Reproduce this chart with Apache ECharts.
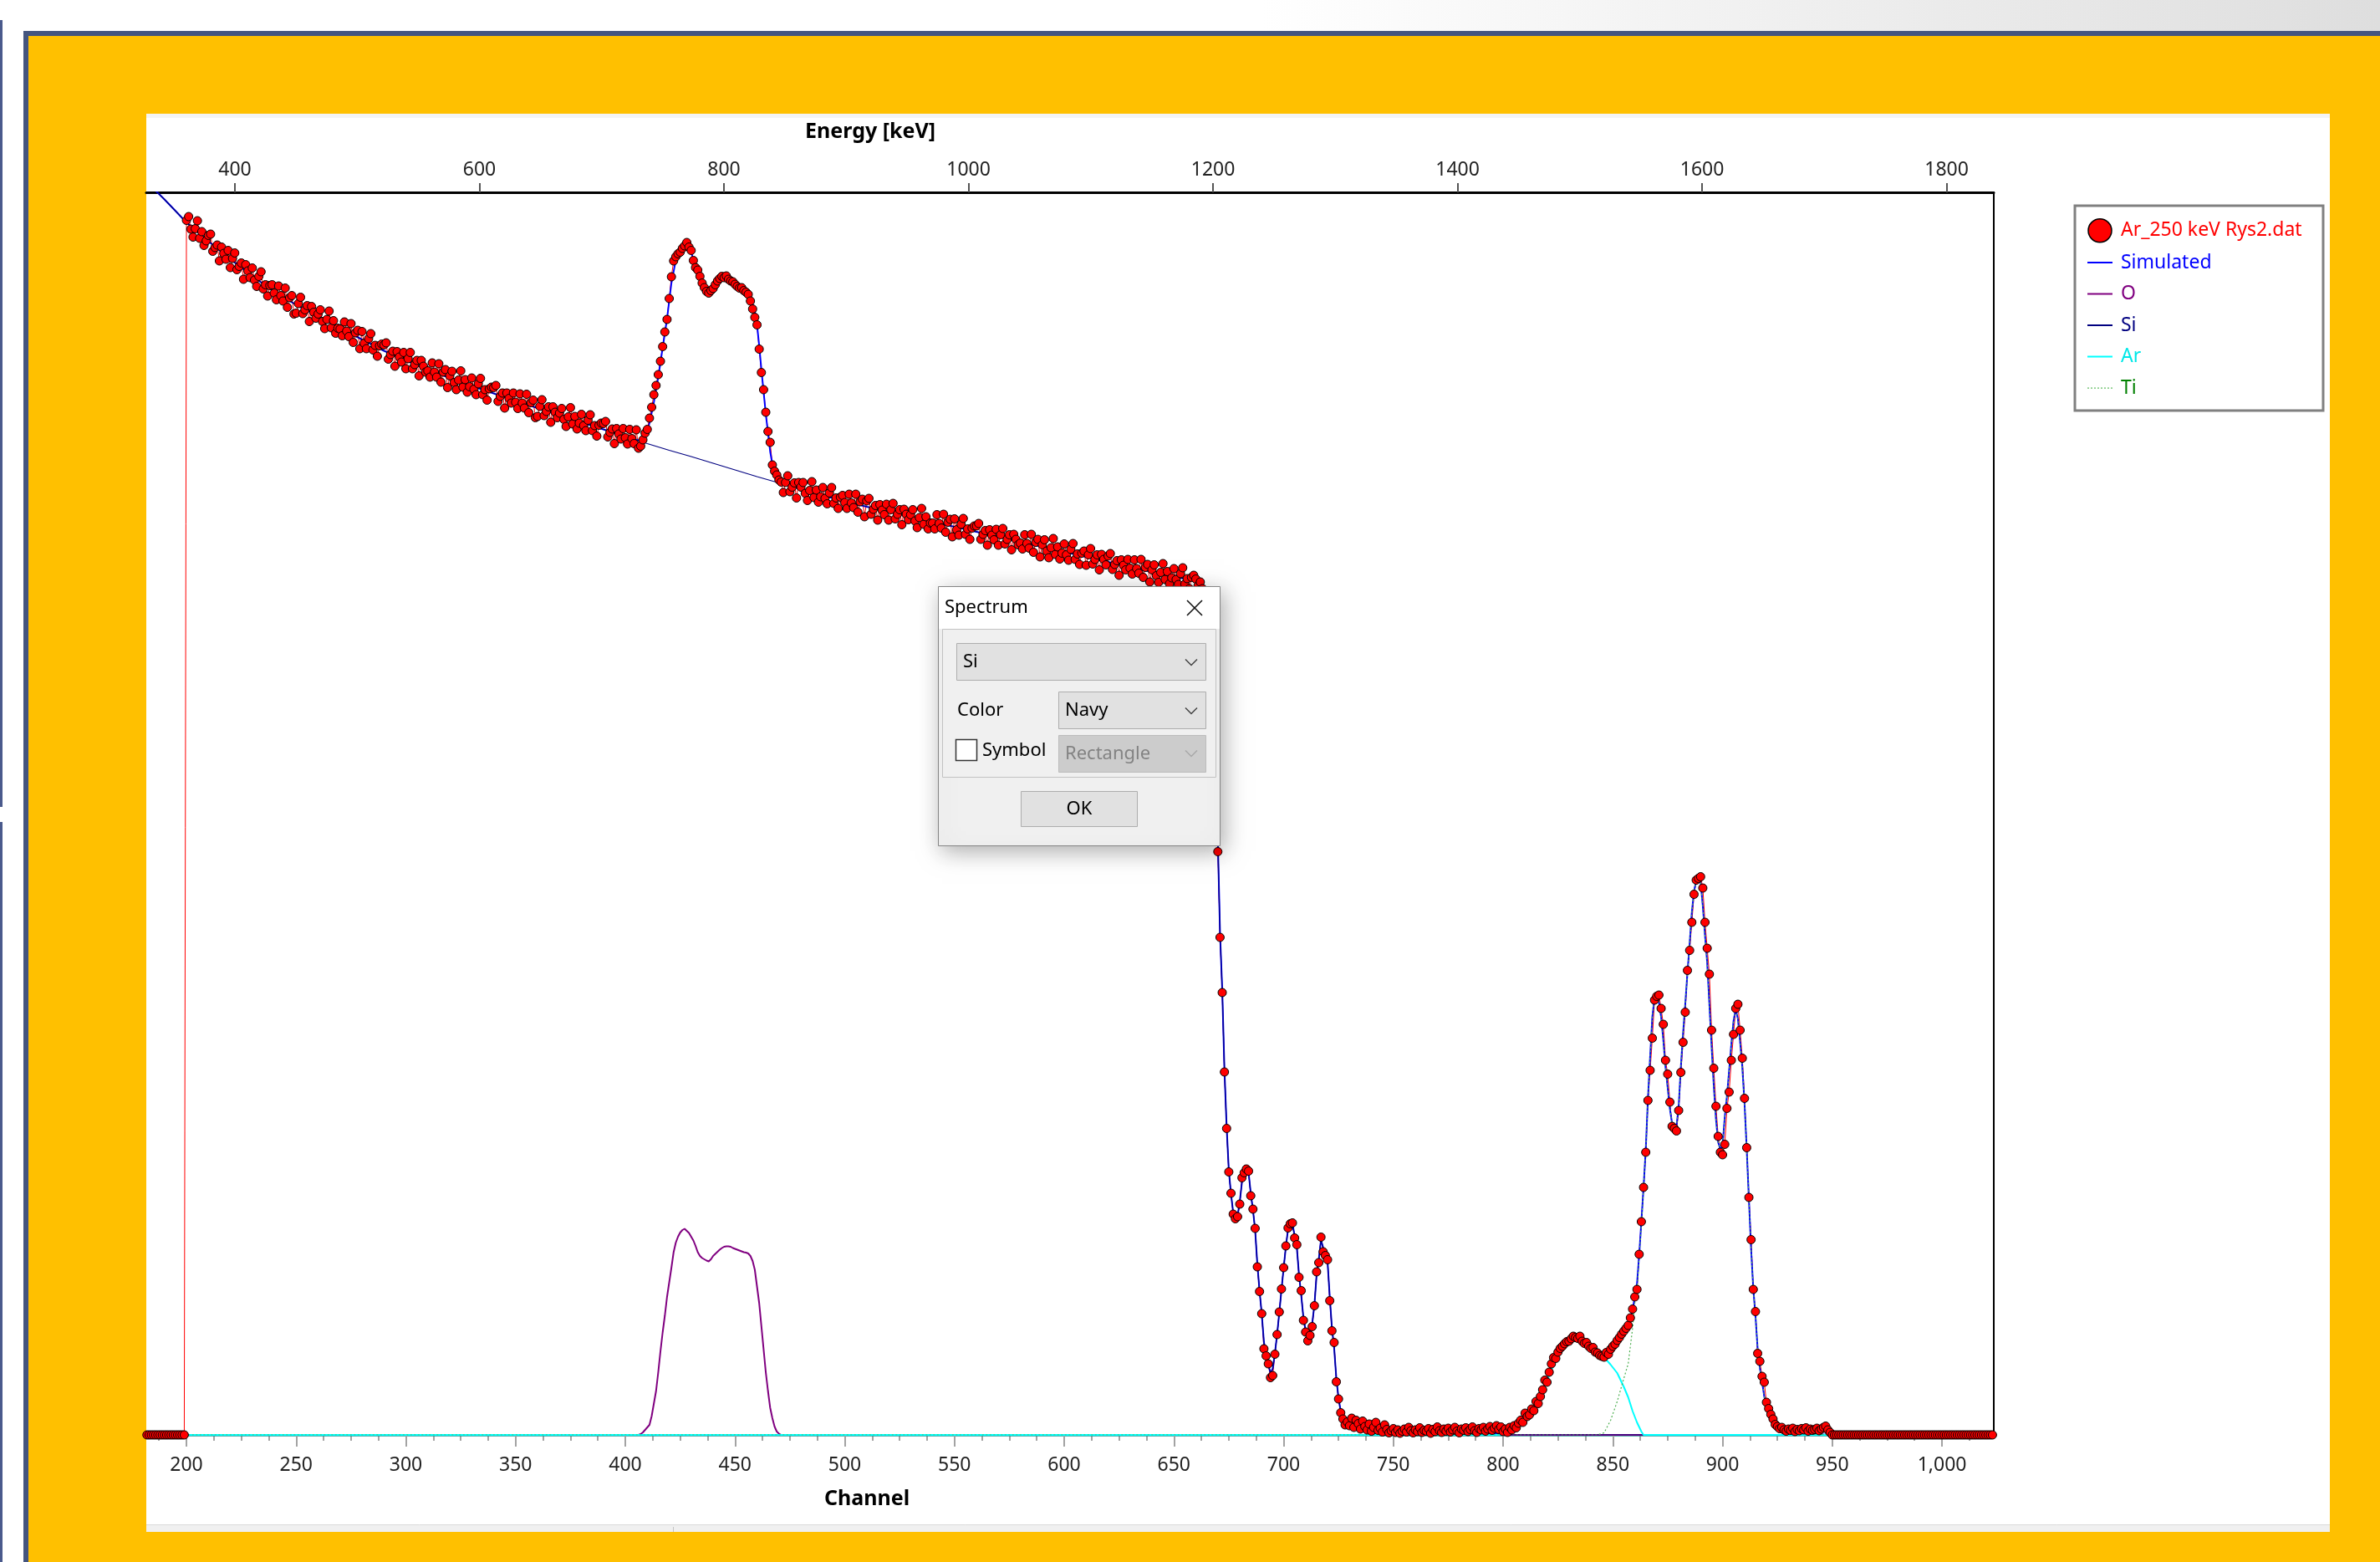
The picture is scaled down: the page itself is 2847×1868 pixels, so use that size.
<!DOCTYPE html>
<html>
<head>
<meta charset="utf-8">
<script src="https://cdn.jsdelivr.net/npm/echarts@6/dist/echarts.min.js"></script>
<style>html,body{margin:0;padding:0;background:#fff;}#chart{width:2847px;height:1868px;}</style>
</head>
<body>
<div id="chart"></div>
<script>
// ---------------- data ----------------
const expStart = 182; // first channel of the experimental spectrum
const expCounts = [
  0,0,0,0,0,0,0,0,                                   // 182-189
  0,0,0,0,0,0,0,0,0,0,                               // 190-199
  2905,2914,2884,2865,2885,2904,2862,2878,2845,2856, // 200
  2869,2872,2831,2840,2846,2808,2841,2826,2812,2833, // 210
  2792,2814,2827,2787,2795,2803,2764,2799,2784,2768, // 220
  2791,2762,2747,2771,2782,2741,2751,2724,2749,2751, // 230
  2731,2715,2748,2725,2712,2743,2697,2720,2725,2681, // 240
  2683,2706,2721,2682,2691,2701,2663,2699,2685,2671, // 250
  2681,2691,2663,2646,2668,2688,2648,2665,2635,2647, // 260
  2645,2629,2662,2640,2627,2658,2613,2636,2642,2598, // 270
  2639,2611,2598,2622,2634,2595,2606,2580,2605,2609, // 280
  2607,2612,2573,2584,2592,2556,2591,2578,2566,2589, // 290
  2550,2574,2589,2550,2560,2570,2533,2570,2556,2542, // 300
  2545,2530,2564,2542,2530,2562,2518,2542,2548,2505, // 310
  2533,2544,2517,2500,2523,2545,2506,2524,2494,2507, // 320
  2528,2501,2488,2514,2527,2488,2500,2475,2502,2506, // 330
  2505,2510,2472,2484,2492,2456,2492,2479,2468,2492, // 340
  2470,2455,2490,2468,2456,2489,2445,2469,2475,2433, // 350
  2436,2460,2476,2438,2448,2459,2422,2459,2446,2433, // 360
  2444,2455,2429,2412,2435,2457,2418,2436,2406,2420, // 370
  2441,2414,2402,2427,2440,2402,2414,2389,2415,2420, // 380
  2419,2424,2387,2398,2406,2371,2407,2394,2382,2407, // 390
  2385,2370,2405,2383,2371,2404,2360,                // 400-406
  2365,2380,2396,2405,2432,2458,2488,2510,2536,2568, // 407
  2603,2638,2668,2718,2770,2808,2818,2825,2829,2838, // 417
  2844,2852,2841,2833,2809,2792,2786,2771,2755,2744, // 427
  2735,2731,2737,2742,2751,2760,2766,2771,2768,2772, // 437
  2764,2760,2758,2752,2747,2743,2744,2737,2733,2728, // 447
  2712,2693,2673,2655,2597,2541,2500,2446,2400,2374, // 457
  2320,2305,2296,2284,2279,                          // 467-471
  2254,2278,2294,2256,2267,2277,2241,2278,           // 472-479
  2267,2278,2252,2235,2259,2280,2242,2260,2231,2244, // 480
  2266,2240,2227,2253,2266,2228,2241,2216,2243,2247, // 490
  2230,2216,2250,2229,2218,2250,2207,2232,2238,2196, // 500
  2234,2240,2202,2214,2223,2188,2225,2212,2201,2226, // 510
  2188,2213,2228,2191,2202,2213,2177,2214,2202,2189, // 520
  2201,2213,2186,2170,2194,2216,2178,2196,2167,2181, // 530
  2181,2167,2201,2180,2169,2202,2159,2183,2190,2148, // 540
  2191,2165,2152,2178,2192,2154,2167,2142,2169,2174, // 550
  2174,2180,2142,2154,2163,2128,2165,2152,2141,2166, // 560
  2128,2153,2168,2131,2142,2153,2117,2154,2142,2129, // 570
  2133,2119,2153,2132,2121,2154,2111,2135,2142,2100, // 580
  2129,2141,2114,2098,2122,2144,2106,2124,2095,2109, // 590
  2131,2105,2092,2118,2132,2094,2107,2082,2109,2114, // 600
  2080,2105,2120,2083,2094,2105,2069,2106,2094,2081, // 610
  2102,2108,2070,2082,2091,2056,2093,2080,2069,2094, // 620
  2073,2059,2093,2072,2061,2094,2051,2075,2082,2040, // 630
  2069,2081,2055,2039,2063,2084,2046,2065,2036,2050, // 640
  2072,2046,2034,2060,2074,2035,2048,2024,2051,2056, // 650
  2047,2031,2040,2024,2015,1992,1968,1905,1810,1640, // 660
  1395,1190,1058,868,733,629,578,528,517,522,        // 670
  552,615,627,636,631,572,540,494,402,343,           // 680
  290,206,189,170,137,142,193,240,294,349,           // 690
  400,452,495,505,507,471,455,377,345,274,           // 700
  246,225,238,259,309,390,412,473,438,429,           // 710
  419,321,249,221,127,86,53,38,24,                   // 720-728
  31,22,40,18,35,27,14,33,20,12,26,                  // 729-739
  9,18,30,11,16,7,24,13,5,10,                        // 740
  15,6,12,4,9,14,7,18,10,5,                          // 750
  12,8,17,6,11,9,15,4,13,8,                          // 760
  19,10,6,14,9,16,7,12,18,9,                         // 770
  5,14,11,17,8,13,19,10,6,15,                        // 780
  12,18,9,14,20,11,16,22,13,19,                      // 790
  8,14,6,18,12,22,17,28,35,30,                       // 800
  52,44,48,62,58,80,75,92,108,131,                   // 810
  126,150,170,185,183,198,207,212,218,223,           // 820
  224,230,236,233,231,236,224,219,221,212,           // 830
  207,209,198,196,190,188,186,197,193,205,           // 840
  212,217,226,233,241,248,255,262,280,301,           // 850
  330,348,432,510,592,676,800,872,949,1040,          // 860
  1049,1052,1020,982,896,863,796,738,733,727,        // 870
  776,867,939,1011,1111,1159,1226,1293,1327,1331,    // 880
  1335,1308,1226,1164,1102,968,877,786,714,676,      // 890
  670,695,781,820,896,958,1020,1030,968,901,         // 900
  805,687,568,467,348,295,195,176,140,126,           // 910
  78,63,49,38,25,20,15,18,12,9,                      // 920
  14,11,16,8,13,10,15,12,17,9,                       // 930
  14,11,13,16,10,14,18,21,12,6,                      // 940
  0,0,0,0,0,0,0,0,0,0,                               // 950
  0,0,0,0,0,0,0,0,0,0,                               // 960
  0,0,0,0,0,0,0,0,0,0,                               // 970
  0,0,0,0,0,0,0,0,0,0,                               // 980
  0,0,0,0,0,0,0,0,0,0,                               // 990
  0,0,0,0,0,0,0,0,0,0,                               // 1000
  0,0,0,0,0,0,0,0,0,0,                               // 1010
  0,0,0,0                                            // 1020-1023
];

const simulated = [[182,2997],[190,2955],[200,2900],[210,2855],[220,2812],[230,2772],[240,2734],[250,2703],[260,2676],[270,2648],[280,2620],[290,2593],[300,2570],[310,2548],[320,2528],[330,2509],[340,2491],[350,2473],[360,2456],[370,2439],[380,2422],[390,2405],[400,2388],[405,2380],[407,2378],[409,2385],[411,2420],[413,2470],[415,2530],[417,2600],[419,2670],[421,2755],[423,2810],[425,2830],[427,2845],[428,2850],[430,2830],[432,2790],[434,2770],[436,2748],[438,2740],[440,2748],[442,2760],[444,2768],[446,2766],[448,2761],[450,2753],[452,2745],[454,2738],[456,2730],[458,2705],[459,2688],[460,2655],[461,2605],[462,2548],[463,2495],[464,2442],[465,2397],[466,2352],[467,2322],[468,2300],[470,2282],[472,2275],[480,2262],[490,2247],[500,2233],[510,2220],[520,2208],[530,2196],[540,2184],[550,2172],[560,2160],[570,2148],[580,2136],[590,2124],[600,2112],[610,2100],[620,2088],[630,2076],[640,2064],[650,2053],[660,2042],[662,2036],[664,2022],[665,2005],[666,1975],[667,1920],[668,1820],[669,1650],[670,1420],[671,1200],[672,1065],[673,875],[674,738],[675,632],[676,576],[677,532],[678,520],[679,524],[680,558],[681,605],[682,628],[683,634],[684,628],[685,578],[686,538],[687,490],[688,408],[689,345],[690,290],[691,222],[692,190],[693,168],[694,148],[695,158],[696,195],[697,240],[698,292],[699,347],[700,400],[701,450],[702,492],[703,503],[704,505],[705,476],[706,448],[707,382],[708,334],[709,280],[710,250],[711,236],[712,244],[713,266],[714,310],[715,382],[716,420],[717,466],[718,448],[719,432],[720,414],[721,330],[722,255],[723,208],[724,135],[725,88],[726,56],[727,36],[728,28],[730,25],[734,21],[738,17],[742,12],[746,8],[750,5],[760,3],[780,3],[800,4],[804,12],[808,28],[812,50],[816,80],[819,118],[822,162],[825,196],[828,214],[831,226],[834,231],[837,226],[840,212],[843,198],[846,190],[849,200],[852,222],[855,246],[857,264],[859,298],[860,328],[861,360],[862,430],[863,510],[864,592],[865,682],[866,805],[867,905],[868,1000],[869,1045],[870,1052],[871,1035],[872,1000],[873,945],[874,880],[875,830],[876,780],[877,745],[878,733],[879,738],[880,785],[881,880],[882,960],[883,1030],[884,1105],[885,1175],[886,1250],[887,1300],[888,1326],[889,1333],[890,1322],[891,1265],[892,1195],[893,1130],[894,1030],[895,930],[896,835],[897,755],[898,700],[899,683],[900,692],[901,760],[902,810],[903,872],[904,935],[905,990],[906,1018],[907,995],[908,940],[909,880],[910,795],[911,685],[912,565],[913,445],[914,350],[915,285],[916,205],[917,160],[918,128],[919,92],[920,70],[921,55],[922,45],[924,28],[926,16],[930,8],[935,4],[940,2],[950,0],[1024,0]];

const siCurve = [[182,2997],[190,2955],[200,2900],[210,2855],[220,2812],[230,2772],[240,2734],[250,2703],[260,2676],[270,2648],[280,2620],[290,2593],[300,2570],[310,2548],[320,2528],[330,2509],[340,2491],[350,2473],[360,2456],[370,2439],[380,2422],[390,2405],[400,2388],[410,2371],[420,2355],[430,2340],[440,2324],[450,2308],[460,2292],[470,2277],[480,2262],[490,2247],[500,2233],[510,2220],[520,2208],[530,2196],[540,2184],[550,2172],[560,2160],[570,2148],[580,2136],[590,2124],[600,2112],[610,2100],[620,2088],[630,2076],[640,2064],[650,2053],[660,2042],[662,2036],[664,2022],[665,2005],[666,1975],[667,1920],[668,1820],[669,1650],[670,1420],[671,1200],[672,1065],[673,875],[674,738],[675,632],[676,576],[677,532],[678,520],[679,524],[680,558],[681,605],[682,628],[683,634],[684,628],[685,578],[686,538],[687,490],[688,408],[689,345],[690,290],[691,222],[692,190],[693,168],[694,148],[695,158],[696,195],[697,240],[698,292],[699,347],[700,400],[701,450],[702,492],[703,503],[704,505],[705,476],[706,448],[707,382],[708,334],[709,280],[710,250],[711,236],[712,244],[713,266],[714,310],[715,382],[716,420],[717,466],[718,448],[719,432],[720,414],[721,330],[722,255],[723,208],[724,135],[725,88],[726,56],[727,36],[728,28],[730,25],[734,21],[738,17],[742,12],[746,8],[750,5],[760,3],[780,3],[800,0],[1024,0]];

const oCurve = [[182,0],[406,0],[407,2],[408,6],[409,12],[410,18],[411,24],[412,45],[413,75],[414,105],[415,150],[416,200],[417,245],[418,285],[419,330],[420,365],[421,400],[422,437],[423,460],[424,474],[425,484],[426,490],[427,493],[428,488],[429,483],[430,474],[431,465],[432,452],[433,437],[434,428],[435,423],[436,420],[437,417],[438,415],[439,420],[440,428],[441,433],[442,438],[443,443],[444,447],[445,450],[446,451],[447,451],[448,450],[449,447],[450,445],[451,443],[452,441],[453,439],[454,437],[455,436],[456,434],[457,428],[458,416],[459,395],[460,355],[461,315],[462,260],[463,205],[464,150],[465,105],[466,65],[467,40],[468,20],[469,8],[470,3],[471,0],[1024,0]];

const arCurve = [[182,0],[798,0],[802,4],[806,15],[810,35],[814,65],[818,105],[822,155],[825,190],[828,217],[831,230],[834,236],[837,228],[840,212],[843,198],[846,186],[849,168],[852,148],[855,115],[857,90],[859,57],[861,30],[863,8],[864,0],[1024,0]];

const tiCurve = [[182,0],[843,0],[846,5],[849,35],[852,80],[855,135],[857,170],[859,255],[860,315],[861,345],[862,425],[863,502],[864,590],[865,682],[866,805],[867,905],[868,1000],[869,1045],[870,1052],[871,1035],[872,1000],[873,945],[874,880],[875,830],[876,780],[877,745],[878,733],[879,738],[880,785],[881,880],[882,960],[883,1030],[884,1105],[885,1175],[886,1250],[887,1300],[888,1326],[889,1333],[890,1322],[891,1265],[892,1195],[893,1130],[894,1030],[895,930],[896,835],[897,755],[898,700],[899,683],[900,692],[901,760],[902,810],[903,872],[904,935],[905,990],[906,1018],[907,995],[908,940],[909,880],[910,795],[911,685],[912,565],[913,445],[914,350],[915,285],[916,205],[917,160],[918,128],[919,92],[920,70],[921,55],[922,45],[924,28],[926,16],[930,8],[935,4],[940,2],[950,0],[1024,0]];

const channelTicks = [200,250,300,350,400,450,500,550,600,650,700,750,800,850,900,950,1000];
const energyTicks = [400,600,800,1000,1200,1400,1600,1800];
const seriesNames = ['Ar_250 keV Rys2.dat','Simulated','O','Si','Ar','Ti'];
const seriesColors = ['#ff0000','#0000ff','#800080','#000080','#00ffff','#4caf50'];
const legendTextColors = ['#ff0000','#0000ff','#800080','#000080','#00e8e8','#008000'];

// ---------------- chart ----------------
const FONT = '"Noto Sans", "Open Sans", "DejaVu Sans", sans-serif';
const chMin = 181.7, chMax = 1023.6;       // visible channel window
const enMin = 327.5, enMax = 1838.6;       // matching energy window
const minorTicks = [];
for (let v = channelTicks[0] - 12.5; v <= chMax; v += 12.5) {
  if (channelTicks.indexOf(v) < 0 && v >= chMin) minorTicks.push(v);
}
const expData = expCounts.map((c, i) => [expStart + i, c]);

const LINE_ICON = 'path://M0,0h0.01v0.01h-0.01zM0,13h30v2h-30zM0,28h0.01v0.01h-0.01z';
const DOT_ICON = 'path://M0,0h0.01v0.01h-0.01zM0,13.3h2v1.6h-2zM4,13.3h2v1.6h-2zM8,13.3h2v1.6h-2zM12,13.3h2v1.6h-2zM16,13.3h2v1.6h-2zM20,13.3h2v1.6h-2zM24,13.3h2v1.6h-2zM28,13.3h2v1.6h-2zM0,28h0.01v0.01h-0.01z';

function txt(x, y, s, opt) {
  return {type:'text', x:x, y:y, z:101, silent:true,
    style:{text:s, fill:(opt && opt.fill) || '#000', font:'22px ' + FONT,
      textAlign:(opt && opt.align) || 'left', textVerticalAlign:'middle'}};
}
function chevron(y, color) {
  return {type:'polyline', z:101, silent:true, shape:{points:[[1418,y-3.5],[1425,y+3.5],[1432,y-3.5]]},
    style:{stroke:color, lineWidth:1.5, fill:null}};
}

const graphics = [
  {type:'rect', z:-30, silent:true, shape:{x:0,y:0,width:2847,height:37},
   style:{fill:new echarts.graphic.LinearGradient(0,0,1,0,[{offset:0,color:'#ffffff'},{offset:0.53,color:'#ffffff'},{offset:1,color:'#dedede'}])}},
  {type:'rect', z:-30, silent:true, shape:{x:0,y:24,width:3,height:941}, style:{fill:'#4a5a8c'}},
  {type:'rect', z:-30, silent:true, shape:{x:0,y:983,width:3,height:885}, style:{fill:'#4a5a8c'}},
  {type:'rect', z:-29, silent:true, shape:{x:28,y:37,width:2819,height:1831}, style:{fill:'#44557f'}},
  {type:'rect', z:-28, silent:true, shape:{x:34,y:43,width:2813,height:1825}, style:{fill:'#ffc000'}},
  {type:'rect', z:-27, silent:true, shape:{x:175,y:136,width:2612,height:1687}, style:{fill:'#ffffff'}},
  {type:'rect', z:-26, silent:true, shape:{x:175,y:136,width:2612,height:5}, style:{fill:'#f4f4f4'}},
  {type:'rect', z:-26, silent:true, shape:{x:175,y:1823,width:2612,height:9}, style:{fill:'#f0f0f0'}},
  {type:'line', z:-25, silent:true, shape:{x1:175,y1:1823.5,x2:2787,y2:1823.5}, style:{stroke:'#dadada',lineWidth:1}},
  {type:'line', z:-25, silent:true, shape:{x1:805.5,y1:1826,x2:805.5,y2:1832}, style:{stroke:'#c4c4c4',lineWidth:1}},
  {type:'rect', z:3, silent:true, shape:{x:2482,y:246,width:297,height:245},
   style:{fill:'#ffffff', stroke:'#808080', lineWidth:3}},
  {type:'rect', z:100, silent:true, shape:{x:1122.5,y:701.5,width:337,height:310},
   style:{fill:'#f0f0f0', stroke:'#858585', lineWidth:1, shadowBlur:26, shadowColor:'rgba(0,0,0,0.32)', shadowOffsetX:4, shadowOffsetY:6}},
  {type:'rect', z:100.5, silent:true, shape:{x:1123,y:702,width:336,height:50}, style:{fill:'#ffffff'}},
  txt(1130, 727, 'Spectrum'),
  {type:'line', z:101, silent:true, shape:{x1:1420,y1:718,x2:1438,y2:736}, style:{stroke:'#111',lineWidth:1.6}},
  {type:'line', z:101, silent:true, shape:{x1:1438,y1:718,x2:1420,y2:736}, style:{stroke:'#111',lineWidth:1.6}},
  {type:'rect', z:100.5, silent:true, shape:{x:1127.5,y:752.5,width:327,height:177}, style:{fill:'#f0f0f0', stroke:'#c2c2c2', lineWidth:1}},
  {type:'rect', z:100.7, silent:true, shape:{x:1144.5,y:769.5,width:298,height:44}, style:{fill:'#e1e1e1', stroke:'#adadad', lineWidth:1}},
  txt(1152, 792, 'Si'),
  chevron(792, '#444'),
  txt(1145, 850, 'Color'),
  {type:'rect', z:100.7, silent:true, shape:{x:1266.5,y:827.5,width:176,height:44}, style:{fill:'#e1e1e1', stroke:'#adadad', lineWidth:1}},
  txt(1274, 850, 'Navy'),
  chevron(850, '#444'),
  {type:'rect', z:100.7, silent:true, shape:{x:1143.5,y:884.5,width:25,height:25}, style:{fill:'#ffffff', stroke:'#333', lineWidth:1.5}},
  txt(1175, 898, 'Symbol'),
  {type:'rect', z:100.7, silent:true, shape:{x:1266.5,y:879.5,width:176,height:44}, style:{fill:'#cccccc', stroke:'#bcbcbc', lineWidth:1}},
  txt(1274, 902, 'Rectangle', {fill:'#838383'}),
  chevron(901, '#a8a8a8'),
  {type:'rect', z:100.7, silent:true, shape:{x:1221.5,y:946.5,width:139,height:42}, style:{fill:'#e1e1e1', stroke:'#adadad', lineWidth:1}},
  txt(1291, 968, 'OK', {align:'center'})
];

const icons = ['circle', LINE_ICON, LINE_ICON, LINE_ICON, LINE_ICON, DOT_ICON];
const legendData = seriesNames.map((n, i) => ({
  name: n,
  icon: icons[i],
  itemStyle: i === 0 ? {color:'#ff0000', borderColor:'#000', borderWidth:1.5}
                     : {color: i === 5 ? '#8fd08f' : seriesColors[i], borderWidth:0},
  textStyle: {color: legendTextColors[i]}
}));

function lineSeries(idx, data, width, type) {
  return {
    name: seriesNames[idx], type:'line', xAxisIndex:0, yAxisIndex:0, data:data,
    symbol:'none', silent:true, animation:false, clip:true,
    lineStyle:{color:seriesColors[idx], width:width, type:type || 'solid'},
    itemStyle:{color:seriesColors[idx]}, emphasis:{disabled:true}
  };
}

const option = {
  backgroundColor:'#ffffff',
  animation:false,
  textStyle:{fontFamily:FONT},
  grid:{left:175, right:462, top:230, bottom:152, containLabel:false, outerBoundsMode:'none'},
  graphic:{elements:graphics},
  legend:{
    orient:'vertical', left:2497, top:261, itemWidth:30, itemHeight:28, itemGap:9.5,
    padding:0, selectedMode:false, z:4,
    textStyle:{fontFamily:FONT, fontSize:23, padding:[0,0,0,5]},
    data:legendData
  },
  xAxis:[
    { type:'value', position:'bottom', min:chMin, max:chMax, z:3,
      name:'Channel', nameLocation:'middle', nameGap:64, nameMoveOverlap:false,
      nameTextStyle:{fontFamily:FONT, fontWeight:'bold', fontSize:25, color:'#000', padding:[0,486,0,0]},
      axisLine:{show:true, onZero:false, lineStyle:{color:'#2a9696', width:2.5}},
      axisTick:{show:true, customValues:channelTicks, length:14, lineStyle:{color:'#a3a3a3', width:2}},
      axisLabel:{customValues:channelTicks, margin:25, fontSize:23, color:'#222', fontFamily:FONT},
      splitLine:{show:false}
    },
    { type:'value', position:'top', min:enMin, max:enMax,
      name:'Energy [keV]', nameLocation:'middle', nameGap:60, nameMoveOverlap:false,
      nameTextStyle:{fontFamily:FONT, fontWeight:'bold', fontSize:25, color:'#000', padding:[0,478,0,0]},
      axisLine:{show:true, onZero:false, lineStyle:{color:'#000', width:3}},
      axisTick:{show:true, customValues:energyTicks, length:11, lineStyle:{color:'#555', width:2}},
      axisLabel:{customValues:energyTicks, margin:15, fontSize:23, color:'#222', fontFamily:FONT,
                 formatter: v => String(Math.round(v))},
      splitLine:{show:false}
    },
    { type:'value', position:'bottom', min:chMin, max:chMax,
      axisLine:{show:false, onZero:false},
      axisTick:{show:true, customValues:minorTicks, length:7, lineStyle:{color:'#a3a3a3', width:2}},
      axisLabel:{show:false}, splitLine:{show:false}
    }
  ],
  yAxis:[{
    type:'value', position:'right', min:0, max:2972,
    axisLine:{show:true, onZero:false, lineStyle:{color:'#000', width:2}},
    axisTick:{show:false}, axisLabel:{show:false}, splitLine:{show:false}
  }],
  series:[
    { name:seriesNames[0], type:'line', xAxisIndex:0, yAxisIndex:0, data:expData,
      symbol:'circle', symbolSize:10, showSymbol:true, silent:true, animation:false, clip:true,
      lineStyle:{color:'#ff0000', width:1},
      itemStyle:{color:'#ff0000', borderColor:'#000', borderWidth:1},
      emphasis:{disabled:true}
    },
    lineSeries(1, simulated, 2),
    lineSeries(2, oCurve, 2),
    lineSeries(3, siCurve, 1.2),
    lineSeries(4, arCurve, 2),
    lineSeries(5, tiCurve, 1.2, [2, 2.5])
  ]
};

const chart = echarts.init(document.getElementById('chart'), null, {renderer:'canvas'});
chart.setOption(option);
</script>
</body>
</html>
